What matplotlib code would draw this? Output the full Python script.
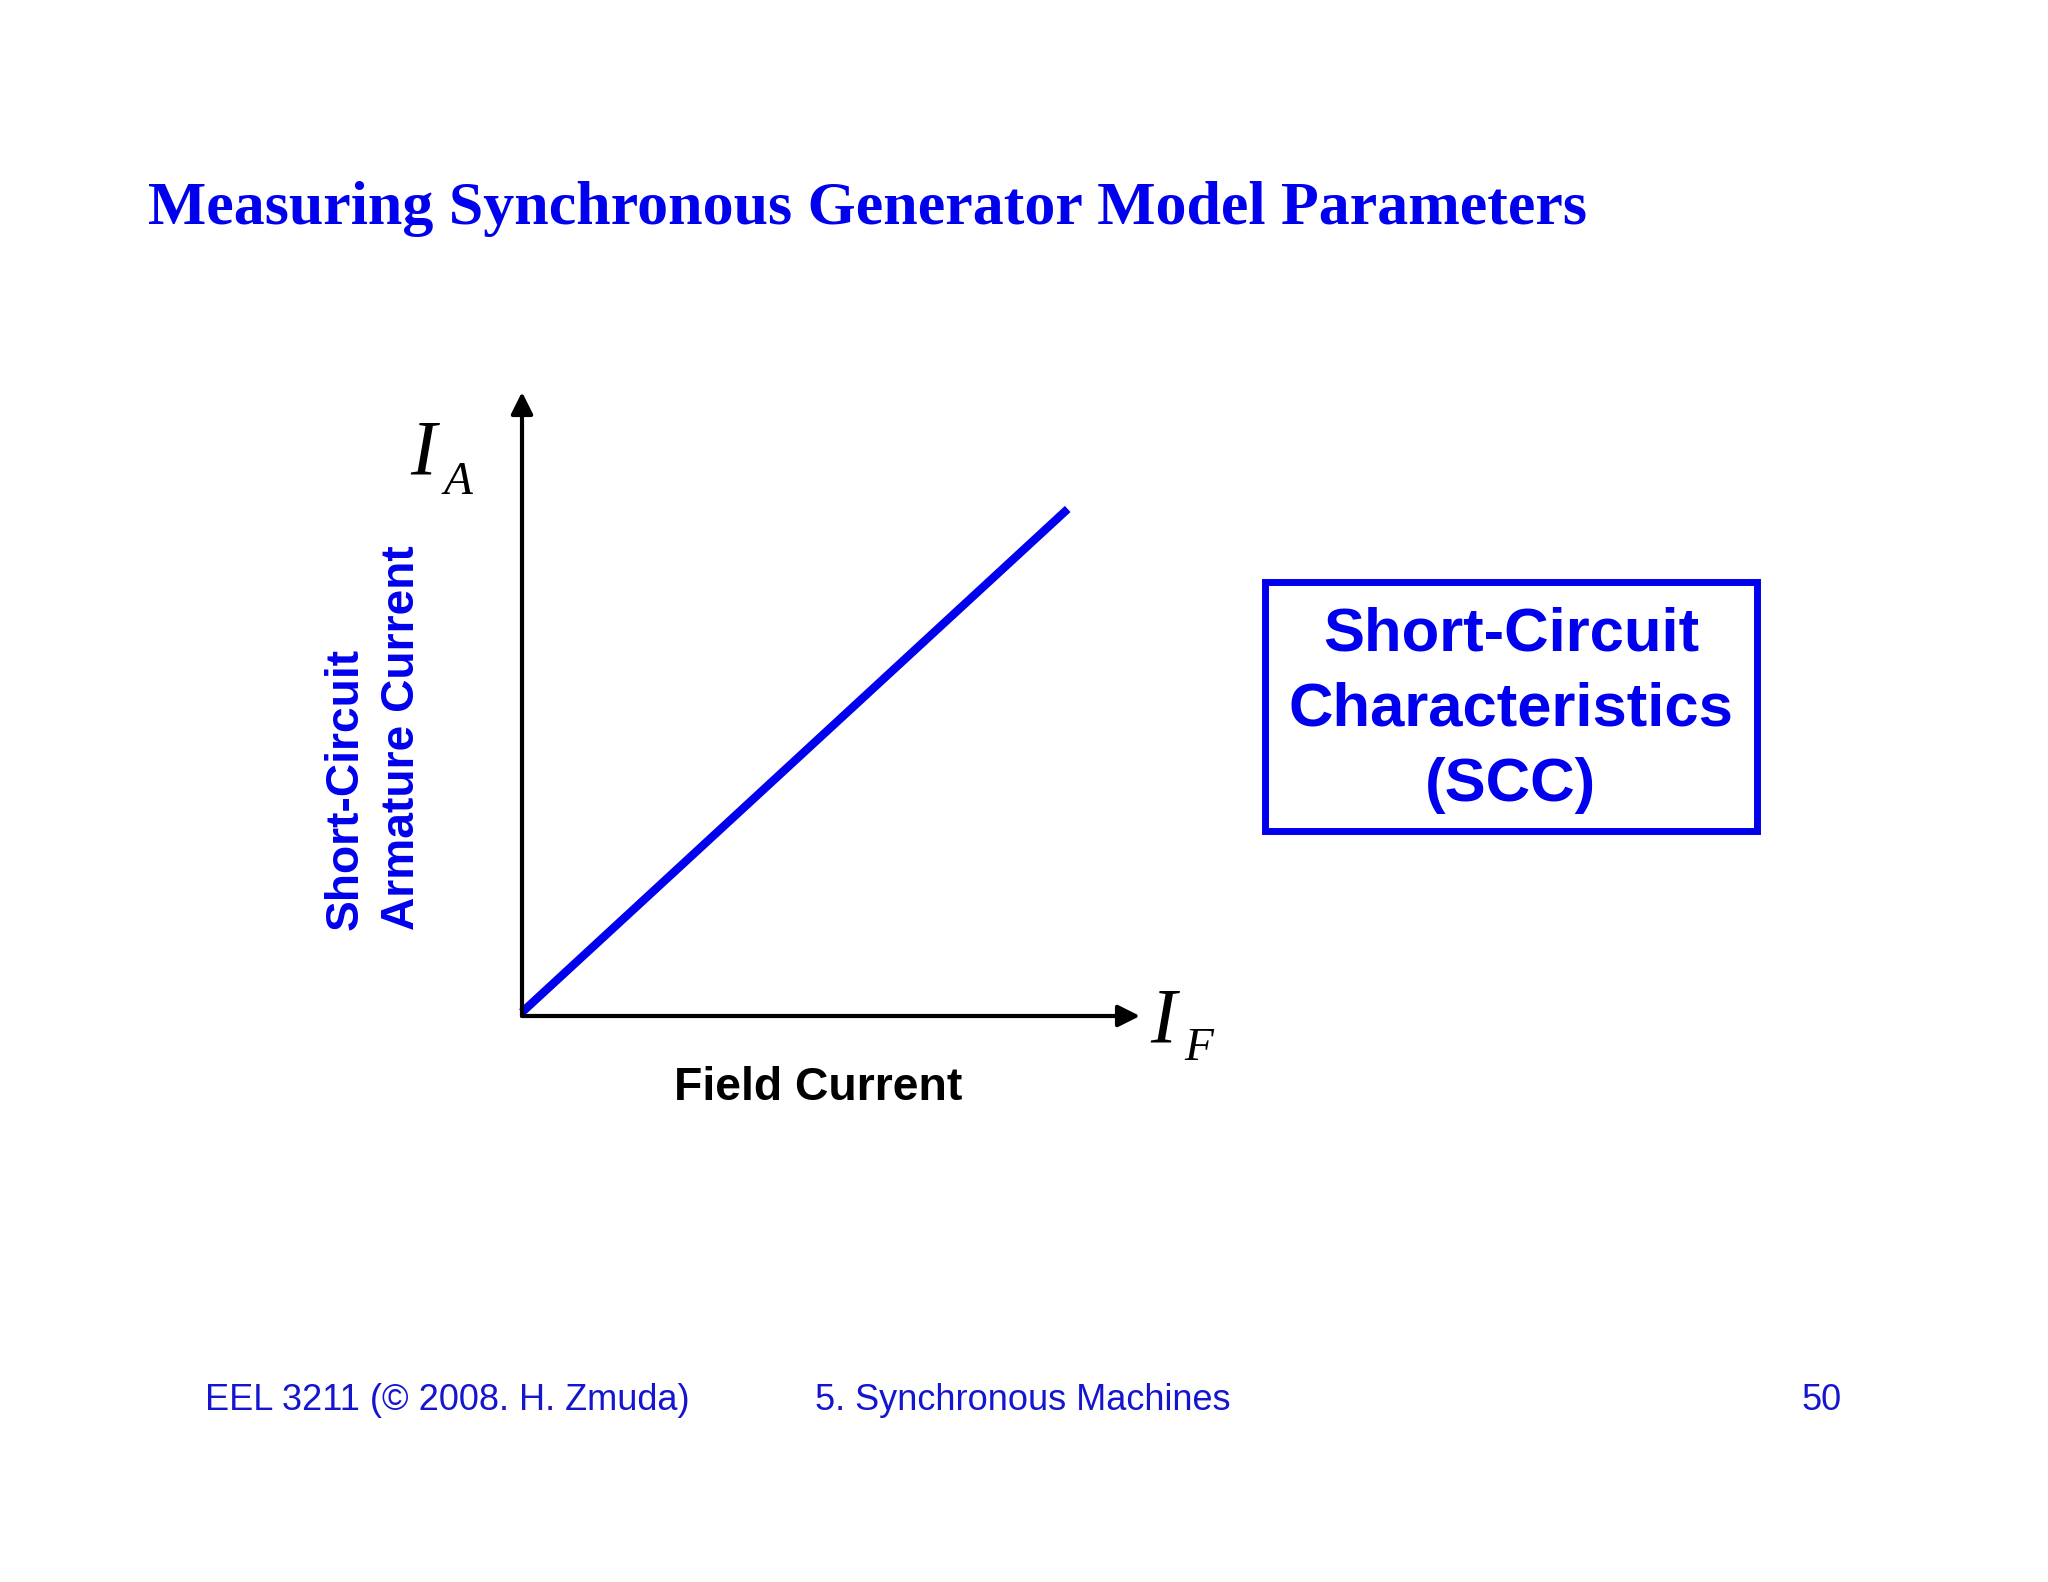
import matplotlib
matplotlib.use("Agg")
import matplotlib.pyplot as plt
from matplotlib.patches import Rectangle

# Data
field_current = [0.0, 0.883]
armature_current = [0.006, 0.8125]

title = "Measuring Synchronous Generator Model Parameters"
ylabel_lines = ["Short-Circuit", "Armature Current"]
xlabel = "Field Current"
box_lines = ["Short-Circuit", "Characteristics", "(SCC)"]
footer_left = "EEL 3211 (\u00a9 2008. H. Zmuda)"
footer_mid = "5. Synchronous Machines"
footer_right = "50"

W, H = 2048, 1582
BLUE = "#0000EE"
FBLUE = "#1515D0"

fig = plt.figure(figsize=(W / 100, H / 100), dpi=100)
fig.patch.set_facecolor("white")

bg = fig.add_axes([0, 0, 1, 1])
bg.set_xlim(0, W)
bg.set_ylim(H, 0)
bg.axis("off")

# chart axes: origin at (522,1016), x arrow tip 1140, y arrow tip 392
x0, y0, x1, y1 = 522, 1016, 1140, 392
ax = fig.add_axes([x0 / W, (H - y0) / H, (x1 - x0) / W, (y0 - y1) / H])
ax.set_xlim(0, 1)
ax.set_ylim(0, 1)
ax.axis("off")
ax.patch.set_alpha(0)

arrow_kw = dict(arrowstyle="-|>,head_length=0.6,head_width=0.3", lw=3, color="black",
                mutation_scale=22, shrinkA=0, shrinkB=0)
ax.annotate("", xy=(1, 0), xytext=(0, 0), arrowprops=arrow_kw, annotation_clip=False)
ax.annotate("", xy=(0, 1), xytext=(0, 0), arrowprops=arrow_kw, annotation_clip=False)
ax.plot(field_current, armature_current, color=BLUE, lw=6, solid_capstyle="butt", clip_on=False)

# Title
bg.text(148, 209, title, fontfamily="Liberation Serif", fontweight="bold", fontsize=44.6,
        color=BLUE, ha="left", va="center")

# Axis symbols
bg.text(410, 473, "I", fontfamily="Liberation Serif", fontstyle="italic", fontsize=56,
        color="black", ha="left", va="baseline")
bg.text(444, 494, "A", fontfamily="Liberation Serif", fontstyle="italic", fontsize=34,
        color="black", ha="left", va="baseline")
bg.text(1150, 1041, "I", fontfamily="Liberation Serif", fontstyle="italic", fontsize=56,
        color="black", ha="left", va="baseline")
bg.text(1184, 1060, "F", fontfamily="Liberation Serif", fontstyle="italic", fontsize=34,
        color="black", ha="left", va="baseline")

# Y label (rotated)
bg.text(358, 930, ylabel_lines[0], fontfamily="Liberation Sans", fontweight="bold", fontsize=33.2,
        color=BLUE, rotation=90, ha="left", va="baseline", rotation_mode="anchor")
bg.text(414, 930, ylabel_lines[1], fontfamily="Liberation Sans", fontweight="bold", fontsize=33.2,
        color=BLUE, rotation=90, ha="left", va="baseline", rotation_mode="anchor")

# X label
bg.text(818, 1088, xlabel, fontfamily="Liberation Sans", fontweight="bold", fontsize=33.4,
        color="black", ha="center", va="center")

# Box
bg.add_patch(Rectangle((1265, 582), 1757 - 1265, 831 - 582, fill=False, edgecolor=BLUE, lw=5))
for txt, yc in zip(box_lines, [635, 710, 785]):
    bg.text(1511, yc, txt, fontfamily="Liberation Sans", fontweight="bold", fontsize=44.4,
            color=BLUE, ha="center", va="center")

# Footer
bg.text(205, 1400, footer_left, fontfamily="Liberation Sans", fontsize=26, color=FBLUE,
        ha="left", va="center")
bg.text(815, 1400, footer_mid, fontfamily="Liberation Sans", fontsize=26, color=FBLUE,
        ha="left", va="center")
bg.text(1842, 1400, footer_right, fontfamily="Liberation Sans", fontsize=26, color=FBLUE,
        ha="right", va="center")

fig.savefig("out.png", dpi=100, facecolor="white")
